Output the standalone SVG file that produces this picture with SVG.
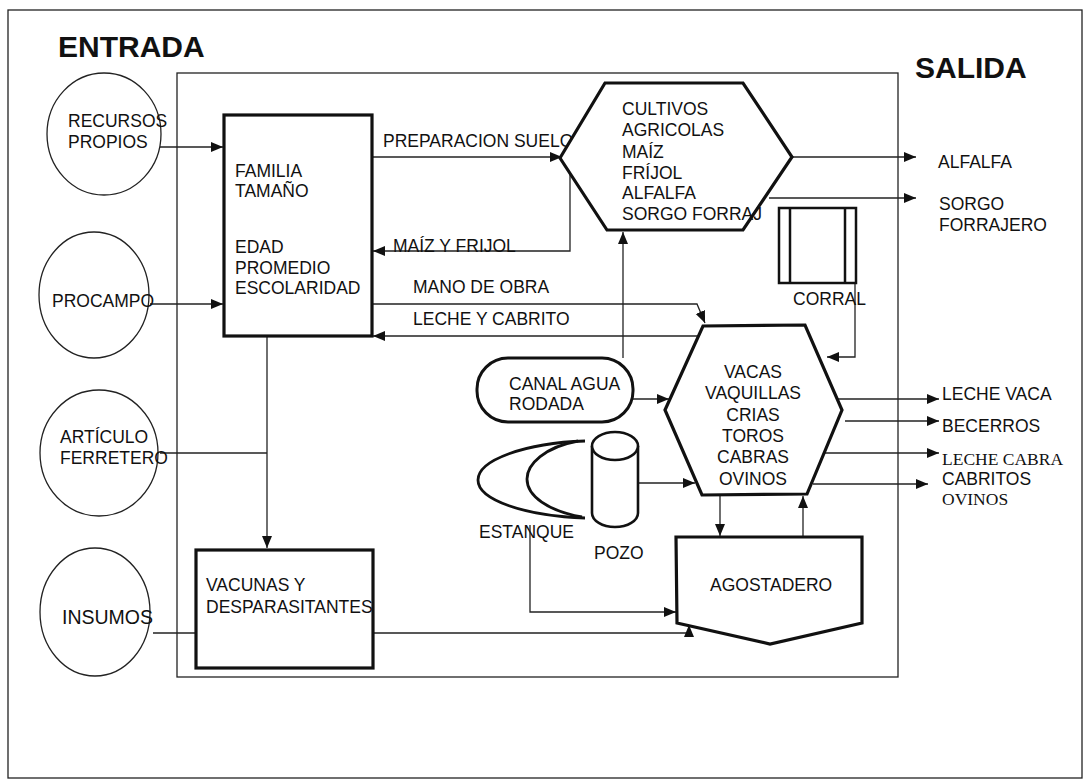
<svg xmlns="http://www.w3.org/2000/svg" width="1090" height="783" viewBox="0 0 1090 783">
<style>
.t{font-family:"Liberation Sans",Arial,sans-serif;font-size:17.5px;fill:#111}
.s{font-family:"Liberation Serif","Times New Roman",serif;font-size:17.5px;fill:#111}
.h{font-family:"Liberation Sans",Arial,sans-serif;font-size:30px;font-weight:bold;fill:#111}
.thin{fill:none;stroke:#222;stroke-width:1.3}
.thick{fill:#fff;stroke:#111;stroke-width:3.2}
.node{fill:#fff;stroke:#222;stroke-width:1.3}
.c{fill:none;stroke:#222;stroke-width:1.3}
.ca{fill:none;stroke:#222;stroke-width:1.3;marker-end:url(#ah)}
</style>
<defs>
<marker id="ah" markerUnits="userSpaceOnUse" markerWidth="13" markerHeight="11" refX="12" refY="5" orient="auto">
<path d="M0,0 L12,5 L0,10 z" fill="#111"/>
</marker>
</defs>
<rect width="1090" height="783" fill="#fff"/>
<rect x="8" y="10" width="1074" height="768" class="thin" stroke="#555"/>
<rect x="177" y="73" width="721" height="604" class="thin"/>
<text class="h" x="58" y="57">ENTRADA</text>
<text class="h" x="915" y="78">SALIDA</text>

<g id="connectors">
<line class="ca" x1="160" y1="147" x2="223" y2="147"/>
<line class="ca" x1="150" y1="304" x2="223" y2="304"/>
<polyline class="c" points="160,453 267,453"/>
<line class="ca" x1="267" y1="336" x2="267" y2="548"/>
<line class="c" x1="153" y1="633" x2="196" y2="633"/>
<line class="ca" x1="372" y1="157" x2="562" y2="157"/>
<polyline class="ca" points="570,172 570,251 373,251"/>
<polyline class="ca" points="372,304 697,304 705,323"/>
<line class="ca" x1="698" y1="336" x2="373" y2="336"/>
<line class="ca" x1="623" y1="358" x2="623" y2="232"/>
<polyline class="ca" points="855,283 855,357 827,357"/>
<line class="ca" x1="633" y1="399" x2="669" y2="399"/>
<line class="ca" x1="638" y1="483" x2="695" y2="483"/>
<line class="ca" x1="720" y1="495" x2="720" y2="536"/>
<line class="ca" x1="803" y1="537" x2="803" y2="496"/>
<polyline class="ca" points="530,525 530,612 676,612"/>
<polyline class="ca" points="373,633 689,633 689,625"/>
<line class="ca" x1="792" y1="157" x2="916" y2="157"/>
<line class="ca" x1="769" y1="198" x2="916" y2="198"/>
<line class="ca" x1="838" y1="399" x2="939" y2="399"/>
<line class="ca" x1="845" y1="421" x2="939" y2="421"/>
<line class="ca" x1="825" y1="453" x2="939" y2="453"/>
<line class="ca" x1="813" y1="484" x2="928" y2="484"/>
<text class="t" x="383" y="147">PREPARACION SUELO</text>
<text class="t" x="393" y="252">MAÍZ Y FRIJOL</text>
<text class="t" x="413" y="293">MANO DE OBRA</text>
<text class="t" x="413" y="325">LECHE Y CABRITO</text>
</g>

<g id="recursos">
<ellipse cx="104" cy="134" rx="57" ry="61" class="node"/>
<text class="t" x="68" y="127">RECURSOS</text>
<text class="t" x="68" y="148">PROPIOS</text>
</g>
<g id="procampo">
<ellipse cx="94" cy="295" rx="55" ry="63" class="node"/>
<text class="t" x="52" y="307">PROCAMPO</text>
</g>
<g id="articulo">
<ellipse cx="99" cy="453" rx="59" ry="63" class="node"/>
<text class="t" x="60" y="443">ARTÍCULO</text>
<text class="t" x="60" y="464">FERRETERO</text>
</g>
<g id="insumos">
<ellipse cx="95" cy="612" rx="55" ry="64" class="node"/>
<text class="t" x="62" y="624" style="font-size:19.5px">INSUMOS</text>
</g>

<g id="familia">
<rect x="224" y="115" width="148" height="221" class="thick"/>
<text class="t" x="235" y="177">FAMILIA</text>
<text class="t" x="235" y="197">TAMAÑO</text>
<text class="t" x="235" y="253">EDAD</text>
<text class="t" x="235" y="274">PROMEDIO</text>
<text class="t" x="235" y="294">ESCOLARIDAD</text>
</g>

<g id="cultivos">
<polygon points="560,158 605,83 743,83 792,157 743,230 607,230" class="thick"/>
<text class="t" x="622" y="115">CULTIVOS</text>
<text class="t" x="622" y="136">AGRICOLAS</text>
<text class="t" x="622" y="158">MAÍZ</text>
<text class="t" x="622" y="179">FRÍJOL</text>
<text class="t" x="622" y="199">ALFALFA</text>
<text class="t" x="622" y="220">SORGO FORRAJ</text>
</g>

<g id="corral">
<rect x="779" y="208" width="77" height="75" fill="#fff" stroke="#111" stroke-width="2.5"/>
<line x1="790" y1="208" x2="790" y2="283" stroke="#111" stroke-width="2.5"/>
<line x1="845" y1="208" x2="845" y2="283" stroke="#111" stroke-width="2.5"/>
<text class="t" x="793" y="305">CORRAL</text>
</g>

<g id="vacas">
<polygon points="665,410 703,326 805,325 842,410 807,494 702,495" class="thick"/>
<g text-anchor="middle">
<text class="t" x="753" y="378">VACAS</text>
<text class="t" x="753" y="399">VAQUILLAS</text>
<text class="t" x="753" y="421">CRIAS</text>
<text class="t" x="753" y="442">TOROS</text>
<text class="t" x="753" y="463">CABRAS</text>
<text class="t" x="753" y="485">OVINOS</text>
</g>
</g>

<g id="canal">
<rect x="477" y="358" width="156" height="64" rx="31" ry="31" fill="#fff" stroke="#111" stroke-width="3"/>
<text class="t" x="509" y="390">CANAL AGUA</text>
<text class="t" x="509" y="410">RODADA</text>
</g>

<g id="estanque">
<path d="M585,441 C525,443 478,460 478,480 C478,500 525,516 585,518" fill="none" stroke="#111" stroke-width="2.8"/>
<path d="M578,441 C545,447 527,464 527,479 C527,496 548,511 582,517" fill="none" stroke="#111" stroke-width="2.8"/>
<text class="t" x="479" y="538">ESTANQUE</text>
</g>

<g id="pozo">
<path d="M592,446 L592,513 A23,14 0 0 0 638,513 L638,446" fill="#fff" stroke="#111" stroke-width="2.6"/>
<ellipse cx="615" cy="446" rx="23" ry="14" fill="#fff" stroke="#111" stroke-width="2.6"/>
<text class="t" x="594" y="559">POZO</text>
</g>

<g id="agostadero">
<polygon points="676,537 862,537 862,623 770,644 677,623" class="thick"/>
<text class="t" x="710" y="591">AGOSTADERO</text>
</g>

<g id="vacunas">
<rect x="196" y="550" width="177" height="118" class="thick"/>
<text class="t" x="206" y="591">VACUNAS Y</text>
<text class="t" x="206" y="613">DESPARASITANTES</text>
</g>

<g id="outputs">
<text class="t" x="938" y="168">ALFALFA</text>
<text class="t" x="939" y="210">SORGO</text>
<text class="t" x="939" y="231">FORRAJERO</text>
<text class="t" x="942" y="400">LECHE VACA</text>
<text class="t" x="942" y="432">BECERROS</text>
<text class="s" x="942" y="465">LECHE CABRA</text>
<text class="t" x="942" y="485">CABRITOS</text>
<text class="s" x="942" y="505">OVINOS</text>
</g>
</svg>
